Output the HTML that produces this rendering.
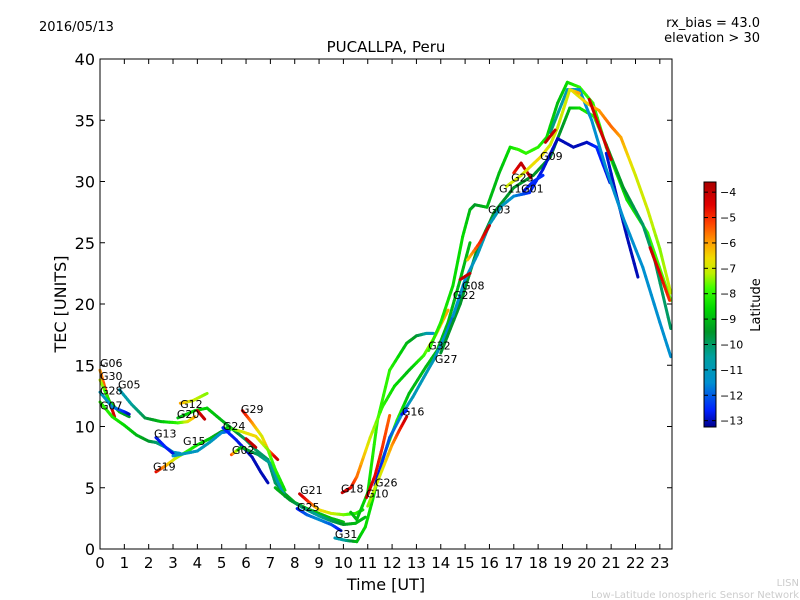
<!DOCTYPE html>
<html><head><meta charset="utf-8"><style>
body{margin:0;background:#fff;}
svg{display:block;font-family:"DejaVu Sans","Liberation Sans",sans-serif;}
</style></head><body>
<svg id="chart" width="800" height="600" xmlns="http://www.w3.org/2000/svg">
<rect x="0" y="0" width="800" height="600" fill="#fff"/>
<text x="39" y="31" font-size="13">2016/05/13</text>
<text x="760" y="27" font-size="13" text-anchor="end">rx_bias = 43.0</text>
<text x="760" y="42" font-size="13" text-anchor="end">elevation &gt; 30</text>
<text x="386" y="52" font-size="15" text-anchor="middle">PUCALLPA, Peru</text>
<g id="tracks"></g>
<g id="labels"></g>
<rect x="100" y="59" width="572" height="490" fill="none" stroke="#000" stroke-width="1"/>
<g id="axes"></g>
<text x="386" y="590" font-size="16" text-anchor="middle">Time [UT]</text>
<text transform="translate(66,304) rotate(-90)" font-size="16" text-anchor="middle">TEC [UNITS]</text>
<defs><linearGradient id="jetg" x1="0" y1="1" x2="0" y2="0"></linearGradient></defs>
<rect x="704" y="182" width="12" height="245" fill="url(#jetg)" stroke="#000" stroke-width="1"/>
<g id="cbticks"></g>
<text transform="translate(760,305) rotate(-90)" font-size="13" text-anchor="middle">Latitude</text>
<text x="799" y="586" font-size="10" fill="#ccc" text-anchor="end">LISN</text>
<text x="799" y="598" font-size="10" fill="#ccc" text-anchor="end">Low-Latitude Ionospheric Sensor Network</text>
</svg>
<script>
const xTicks=[0,1,2,3,4,5,6,7,8,9,10,11,12,13,14,15,16,17,18,19,20,21,22,23];
const yTicks=[0,5,10,15,20,25,30,35,40];
const cbTicks=[-4,-5,-6,-7,-8,-9,-10,-11,-12,-13];
const trackTimes=[
[0,0.3,0.6],[0,0.4,0.8,1.2],[0,0.5,1.0,1.2],[0,0.5,1,1.5,2,2.3,2.7,3,3.3],
[0.8,1.3,1.85,2.5,3.2,3.6,3.9],[3.3,3.8,4.4],
[3.2,3.9,4.4,5.0,5.5,6.0,6.4,6.9,7.2,7.6,8.0,8.5,9.0,9.5,10.0],
[4.0,4.3],[2.3,2.7,3.0],[2.3,2.7,3.1,3.6,4.0,4.5,5.0,5.4],[3.0,3.5,4.0,4.5,5.0,5.3],
[5.05,5.6,6.25,6.6,6.9],[5.4,5.8,6.5,7.0,7.3,7.6],[5.85,6.25,6.65,6.9,7.3],
[5.2,5.8,6.4,6.9,7.2,7.6],[6.0,6.4],[8.2,8.6,9.0,9.5,10.0,10.5,10.8],[8.1,8.5,9.0,9.5,9.9],
[7.2,7.8,8.4,9.0,9.5,10.0,10.5,10.9],
[9.65,10.1,10.55,10.9,11.2,11.6,12.2,12.7,13.4,13.85,14.3,14.8,15.2],
[10.3,10.55,11.0,11.4,11.9,12.6,13.0,13.4,13.7],
[9.95,10.3,10.55,11.1,11.6,12.1,12.7,13.3,13.8,14.3],
[10.95,11.3,11.6,11.9],[11.3,11.9,12.4,12.85,13.3,13.7,14.2,14.6,15.0],
[11.0,11.5,12.0,12.3,12.6],[12.4,12.6],
[13.5,14,14.5,14.9,15.2,15.4,15.9,16.4,16.85,17.2,17.5,18.0,18.35,18.8,19.2,19.7,20.25,20.8,21.65,22.5,23.45],
[14,14.8,15.5,16.2,17,17.8,18.5,19,19.3,19.7,20.3,20.8,21.5,22.3,22.8,23.45],
[14.5,15,15.5,16,16.5,17,17.65,18.2,18.8,19.45,20,20.4,20.95],
[20.8,21.2,21.65,22.1],[18.5,19.2,19.7,20.2,20.8,21.5,22.3,23,23.45],
[19.4,20,20.5,21.0,21.4,22,22.5,23,23.45],[20.1,20.5,21.0],[22.6,23.0,23.4],
[14.8,15.2],[15.1,15.6,16.0],[17.0,17.3,17.7],[16.7,17.3,18.1,18.5,18.8,19.3,19.7],
[18.3,18.7],[17.4,17.8,18.2]];
const trackTec=[
[14.6,12.5,10.8],[13.8,12,11.2,10.8],[12.8,11.6,11.2,11],[12,10.8,10.1,9.3,8.8,8.7,8.3,7.9,7.8],
[13.0,11.8,10.7,10.4,10.3,10.4,10.8],[11.9,12.1,12.7],
[10.7,11.3,11.5,10.5,9.7,8.9,8.1,7.3,5.4,4.5,3.8,3.3,2.9,2.5,2.2],
[11.3,10.6],[9.1,8.3,7.8],[6.3,6.8,7.4,8.0,8.5,9.0,9.6,9.8],[7.6,7.8,8.0,8.7,9.5,9.6],
[9.9,8.9,7.5,6.3,5.4],[7.7,8.3,7.7,7.0,5.5,4.3],[11.3,10.3,9.2,8.1,7.3],
[9.9,9.6,9.2,8.1,6.5,4.8],[9.0,8.3],[4.5,3.8,3.2,2.9,2.8,2.9,3.2],[3.3,2.8,2.4,2.0,1.5],
[5.0,4.0,3.3,2.7,2.3,2.0,2.1,2.6],
[0.9,0.7,0.6,1.8,4,7.3,10.5,12.7,14.9,16.2,18.5,22,25],
[3.0,2.4,4.6,10.5,14.6,16.8,17.4,17.6,17.6],
[4.6,5.0,5.9,9.1,11.6,13.3,14.6,15.8,17.5,19.5],
[4.2,6,8.3,10.9],[5.2,9.1,11,12.4,14,15.4,17.5,19.5,21.5],
[3.5,6.0,8.5,9.7,10.8],[11.0,11.3],
[16.2,18.5,21.5,25.5,27.7,28.1,27.9,30.7,32.8,32.6,32.3,32.8,33.6,36.4,38.1,37.7,36.4,32.8,28.5,25.8,20.3],
[16,20,24.5,27.5,29.5,30.5,32,34.5,36,36,35.3,33,29.5,26.5,23.5,18],
[19,22,24,26.5,28,28.8,29.1,31,33.5,32.8,33.2,32.8,29.9],
[32.3,29,25.5,22.2],[34,37.5,37.5,35,31,27,23,18.5,15.7],
[37.4,36.4,35.8,34.5,33.6,30.5,27.7,24.5,20.9],[36.7,34.5,31.8],[24.6,22.5,20.3],
[22,22.5],[23.6,25,26.4],[30.7,31.5,30.3],[29.6,30.5,32,33,34.4,37.5,37.2],
[33.2,34.2],[29.2,30,30.5]];
const trackLat=[
[-6,-5,-4.2],[-7,-8.5,-9,-9.5],[-11,-11.5,-12.5,-13],[-8,-8.2,-8.5,-9,-9.5,-10,-10.5,-11,-11.5],
[-11,-10.5,-9.8,-9,-8,-7,-6],[-6,-7,-7.5],
[-9,-8.5,-8.7,-9,-9.5,-10,-10,-10,-10,-9.5,-9,-9,-9,-9,-9],
[-4.5,-4],[-12.8,-12.5,-12.8],[-4.5,-6,-7,-8,-8.5,-8.8,-9.5,-10],[-11.5,-11,-11.2,-11,-11.5,-12],
[-12.5,-12.7,-13,-13,-13],[-5,-9,-10,-10.5,-11,-11.2],[-4.3,-5.8,-7,-6,-4],
[-9,-7,-6.5,-7.5,-8,-8.5],[-4,-4],[-4,-5,-6.5,-7,-7.5,-8,-8.5],[-12.8,-12,-11.5,-12,-12.8],
[-9,-9.5,-10,-10.5,-10,-9.5,-9,-9],
[-11,-10.5,-9,-8.5,-8.5,-8,-8,-9,-9,-9,-9,-9,-9],
[-9,-9,-8.5,-8,-8,-9,-9.5,-10.5,-11.5],
[-4,-4.5,-5.5,-7,-8,-8.5,-9,-8,-6.5,-6],
[-4,-4.5,-5,-5.5],[-13,-12,-11.5,-11,-11,-11,-11.5,-12,-12.5],
[-7.5,-7,-6,-5,-4],[-12.8,-12.5],
[-8,-8.2,-8.5,-8.5,-9,-9.5,-9,-9,-8.5,-8,-8,-8,-8.5,-9,-8.5,-8,-8,-8,-8.5,-8,-7.5],
[-9.5,-9.5,-9.5,-9.5,-9.5,-9.5,-9.5,-9.5,-9,-8.5,-8,-9,-9.5,-10,-10,-10],
[-11.5,-11.5,-11,-11,-11,-11.5,-12.5,-12.8,-13,-13,-13,-12.5,-12.8],
[-12.8,-13,-13,-13],[-10,-11,-11.5,-11.5,-11.5,-11.5,-11.5,-11.5,-11.5],
[-7,-6.5,-6,-5.5,-6,-7,-7,-7.5,-7],[-4,-4.5,-4],[-4,-4.5,-5],
[-4,-4],[-6.5,-5,-4],[-5,-4,-4],[-7,-7,-6.5,-7,-7,-7,-6],
[-4,-4],[-13,-12.5,-12.5]];
const labelNames=["G06","G30","G05","G28","G07","G12","G20","G29","G13","G24","G15","G02","G19","G21","G18","G26","G10","G25","G31","G16","G32","G27","G22","G08","G03","G11","G01","G23","G09"];
const labelTimes=[0,0,0.74,0,0,3.29,3.16,5.79,2.22,5.05,3.41,5.42,2.18,8.22,9.9,11.3,10.93,8.1,9.65,12.4,13.48,13.76,14.5,14.87,15.94,16.39,17.3,16.89,18.08];
const labelTec=[14.85,13.8,13.1,12.6,11.4,11.5,10.7,11.1,9.1,9.7,8.5,7.75,6.4,4.5,4.6,5.1,4.2,3.1,0.9,10.9,16.3,15.2,20.4,21.2,27.4,29.1,29.1,30.0,31.75];

const NS="http://www.w3.org/2000/svg";
const X0=100,X1=672,Y0=549,Y1=59,TMAX=23.5,VMAX=40;
const sx=t=>X0+t*(X1-X0)/TMAX;
const sy=v=>Y0-v*(Y0-Y1)/VMAX;
const LMIN=-13.25,LMAX=-3.6,CB0=427,CB1=182;
const cy=l=>CB0-(l-LMIN)/(LMAX-LMIN)*(CB0-CB1);
const cmapStops=[[-13.25,[0,0,140]],[-12.6,[0,32,255]],[-11.5,[0,144,208]],[-10.5,[0,160,160]],[-9.5,[0,150,40]],[-8.6,[0,215,0]],[-7.8,[60,255,0]],[-7.2,[190,240,0]],[-6.6,[240,220,0]],[-6,[255,160,0]],[-5.2,[255,64,0]],[-4.5,[225,0,0]],[-3.6,[170,0,0]]];
function col(l){
  if(l<=cmapStops[0][0])return 'rgb('+cmapStops[0][1].join(',')+')';
  for(let i=0;i<cmapStops.length-1;i++){
    const [a,ca]=cmapStops[i],[b,cb]=cmapStops[i+1];
    if(l<=b){const f=(l-a)/(b-a);return 'rgb('+ca.map((c,k)=>Math.round(c+(cb[k]-c)*f)).join(',')+')';}
  }
  return 'rgb('+cmapStops[cmapStops.length-1][1].join(',')+')';
}
function mk(tag,attrs,parent){const e=document.createElementNS(NS,tag);for(const k in attrs)e.setAttribute(k,attrs[k]);parent.appendChild(e);return e;}

const tg=document.getElementById('tracks');
trackTimes.forEach((ts,i)=>{
  const g=mk('g',{},tg);
  
  
  for(let j=0;j<ts.length-1;j++){
    const steps=6;
    for(let s=0;s<steps;s++){
      const a=s/steps,b=(s+1)/steps;
      const t1=ts[j]+(ts[j+1]-ts[j])*a,t2=ts[j]+(ts[j+1]-ts[j])*b;
      const v1=trackTec[i][j]+(trackTec[i][j+1]-trackTec[i][j])*a,v2=trackTec[i][j]+(trackTec[i][j+1]-trackTec[i][j])*b;
      const l=trackLat[i][j]+(trackLat[i][j+1]-trackLat[i][j])*(a+b)/2;
      const ln=mk('line',{x1:sx(t1),y1:sy(v1),x2:sx(t2),y2:sy(v2),stroke:col(l),'stroke-width':3,'stroke-linecap':'round'},g);
      
      
    }
  }
});
const lg=document.getElementById('labels');
labelNames.forEach((n,i)=>{
  const t=mk('text',{x:sx(labelTimes[i]),y:sy(labelTec[i]),'font-size':11},lg);
  
  
  t.textContent=n;
});
const ax=document.getElementById('axes');
xTicks.forEach(t=>{
  const x=sx(t);
  const a=mk('line',{x1:x,y1:Y0,x2:x,y2:Y0-5,stroke:'#000'},ax);
  
  
  const b=mk('line',{x1:x,y1:Y1,x2:x,y2:Y1+5,stroke:'#000'},ax);
  
  
  const tx=mk('text',{x:x,y:568,'font-size':15,'text-anchor':'middle'},ax);
  
  
  tx.textContent=t;
});
yTicks.forEach(v=>{
  const y=sy(v);
  const a=mk('line',{x1:X0,y1:y,x2:X0+5,y2:y,stroke:'#000'},ax);
  
  
  const b=mk('line',{x1:X1,y1:y,x2:X1-5,y2:y,stroke:'#000'},ax);
  
  
  const tx=mk('text',{x:95,y:y+6,'font-size':16,'text-anchor':'end'},ax);
  
  
  tx.textContent=v;
});
const gr=document.getElementById('jetg');
cmapStops.forEach(s=>{mk('stop',{offset:(s[0]-LMIN)/(LMAX-LMIN),'stop-color':'rgb('+s[1].join(',')+')'},gr);});
const cg=document.getElementById('cbticks');
cbTicks.forEach(l=>{
  const y=cy(l);
  const a=mk('line',{x1:704,y1:y,x2:708,y2:y,stroke:'#000'},cg);
  
  
  const b=mk('line',{x1:716,y1:y,x2:712,y2:y,stroke:'#000'},cg);
  
  
  const tx=mk('text',{x:720,y:y+4,'font-size':11},cg);
  
  
  tx.textContent='\u2212'+Math.abs(l);
});
</script>
</body></html>
